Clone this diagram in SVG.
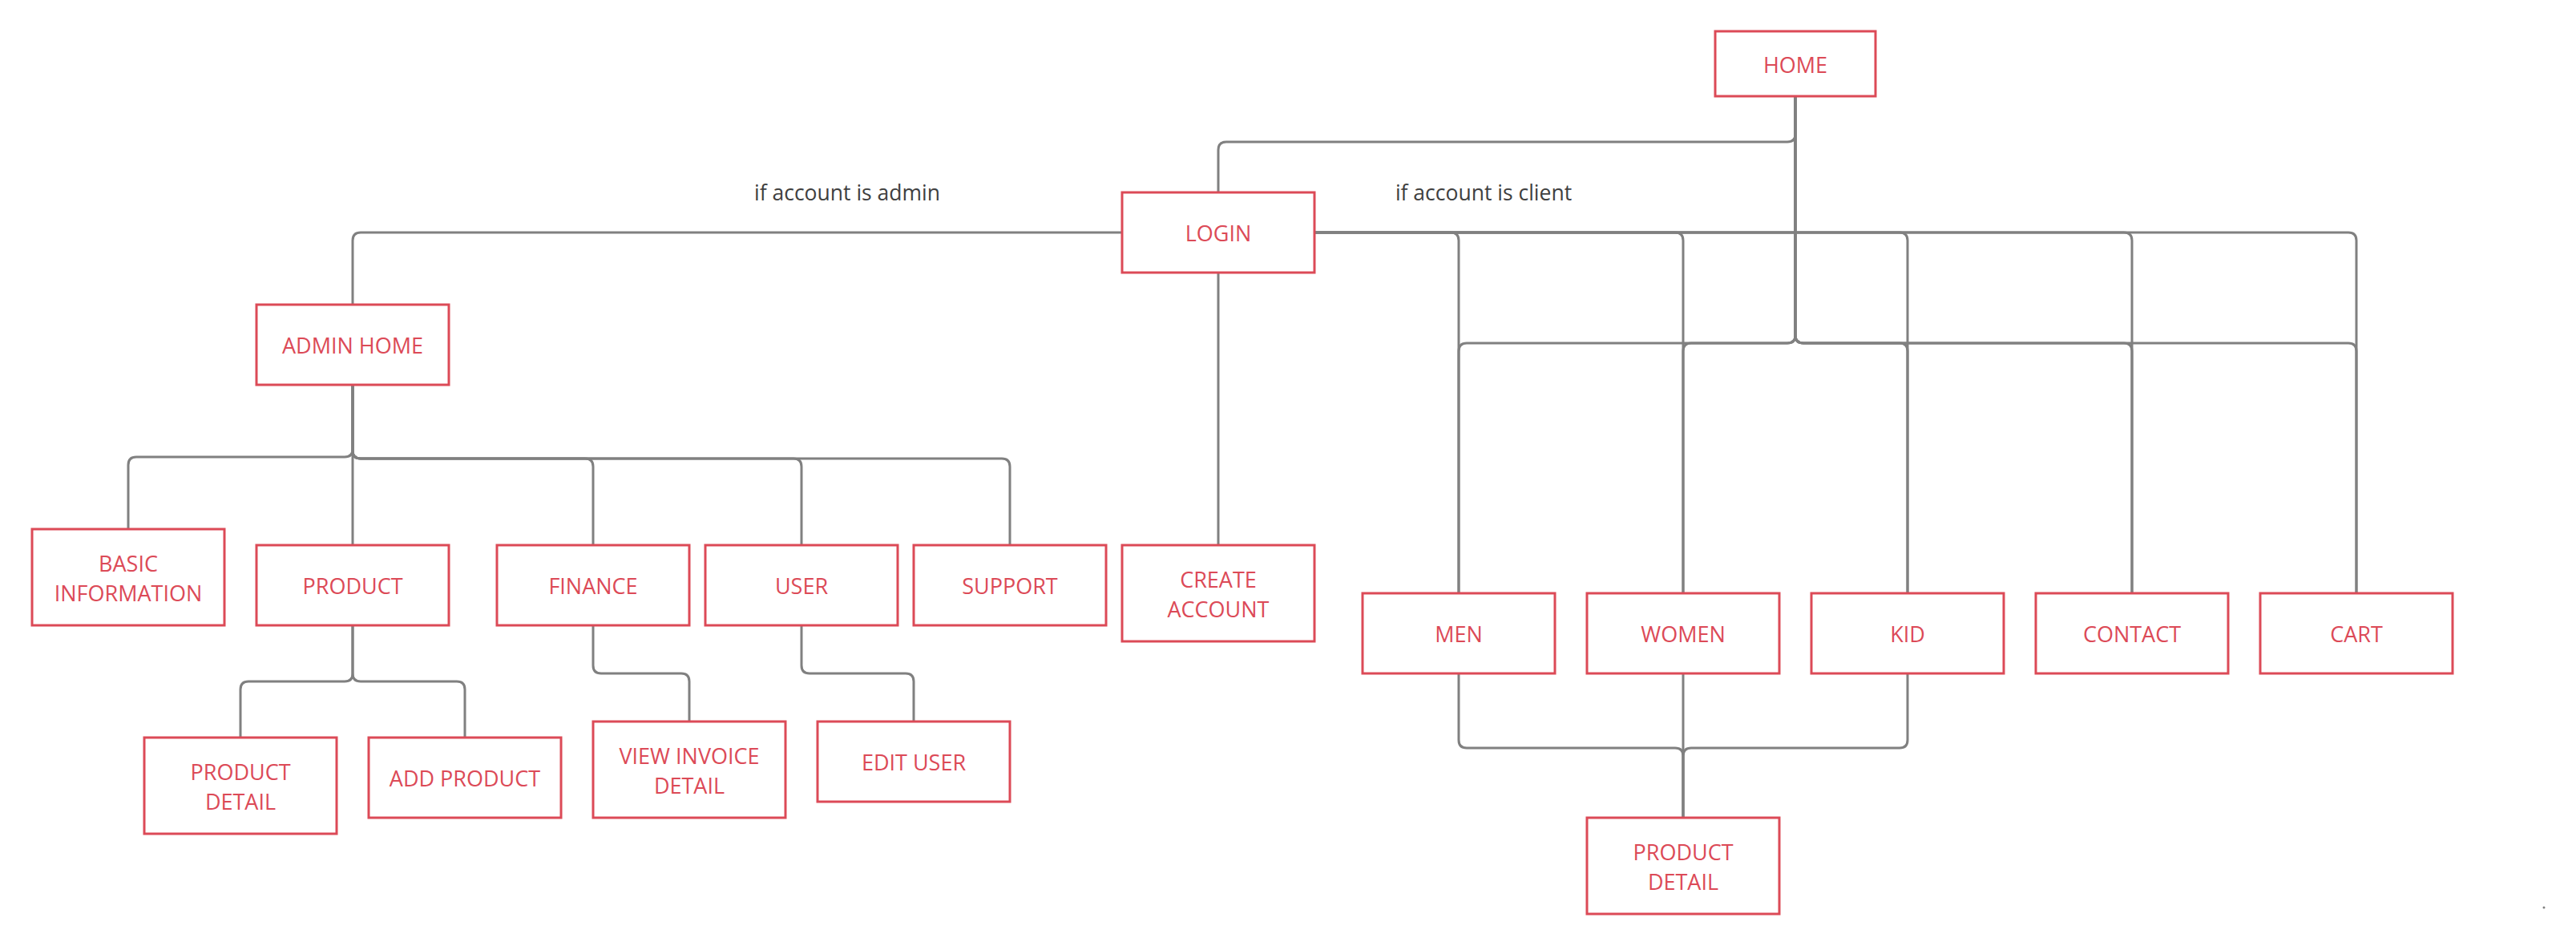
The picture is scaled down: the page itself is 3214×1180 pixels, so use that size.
<svg xmlns="http://www.w3.org/2000/svg" width="3214" height="1180" viewBox="0 0 3214 1180">
<style>
.bg{fill:#ffffff}
.c{fill:none;stroke:#808080;stroke-width:3;stroke-linejoin:round}
.n{fill:#ffffff;stroke:#dc4a57;stroke-width:3}
.t{font-family:"Open Sans","Noto Sans","Liberation Sans",sans-serif;font-size:27px;fill:#dc4a57;text-anchor:middle;dominant-baseline:central}
.l{font-family:"Open Sans","Noto Sans","Liberation Sans",sans-serif;font-size:26.5px;fill:#404040;text-anchor:middle;dominant-baseline:central}
</style>
<rect class="bg" x="0" y="0" width="3214" height="1180"/>
<g id="connectors">
<path class="c" d="M2240,120 V167 Q2240,177 2230,177 H1530 Q1520,177 1520,187 V240"/>
<path class="c" d="M2240,120 V418 Q2240,428 2230,428 H1830 Q1820,428 1820,438 V740"/>
<path class="c" d="M2240,120 V418 Q2240,428 2230,428 H2110 Q2100,428 2100,438 V740"/>
<path class="c" d="M2240,120 V418 Q2240,428 2250,428 H2370 Q2380,428 2380,438 V740"/>
<path class="c" d="M2240,120 V418 Q2240,428 2250,428 H2650 Q2660,428 2660,438 V740"/>
<path class="c" d="M2240,120 V418 Q2240,428 2250,428 H2930 Q2940,428 2940,438 V740"/>
<path class="c" d="M1400,290 H450 Q440,290 440,300 V380"/>
<path class="c" d="M1520,340 V680"/>
<path class="c" d="M1640,290 H1810 Q1820,290 1820,300 V740"/>
<path class="c" d="M1640,290 H2090 Q2100,290 2100,300 V740"/>
<path class="c" d="M1640,290 H2370 Q2380,290 2380,300 V740"/>
<path class="c" d="M1640,290 H2650 Q2660,290 2660,300 V740"/>
<path class="c" d="M1640,290 H2930 Q2940,290 2940,300 V740"/>
<path class="c" d="M440,480 V560 Q440,570 430,570 H170 Q160,570 160,580 V660"/>
<path class="c" d="M440,480 V680"/>
<path class="c" d="M440,480 V562 Q440,572 450,572 H730 Q740,572 740,582 V680"/>
<path class="c" d="M440,480 V562 Q440,572 450,572 H990 Q1000,572 1000,582 V680"/>
<path class="c" d="M440,480 V562 Q440,572 450,572 H1250 Q1260,572 1260,582 V680"/>
<path class="c" d="M440,780 V840 Q440,850 430,850 H310 Q300,850 300,860 V920"/>
<path class="c" d="M440,780 V840 Q440,850 450,850 H570 Q580,850 580,860 V920"/>
<path class="c" d="M740,780 V830 Q740,840 750,840 H850 Q860,840 860,850 V900"/>
<path class="c" d="M1000,780 V830 Q1000,840 1010,840 H1130 Q1140,840 1140,850 V900"/>
<path class="c" d="M1820,840 V923 Q1820,933 1830,933 H2090 Q2100,933 2100,943 V1020"/>
<path class="c" d="M2100,840 V1020"/>
<path class="c" d="M2380,840 V923 Q2380,933 2370,933 H2110 Q2100,933 2100,943 V1020"/>
</g>
<text class="l" x="1057" y="240">if account is admin</text>
<text class="l" x="1851" y="240">if account is client</text>
<g id="home"><rect class="n" x="2140" y="39" width="200" height="81"/><text class="t" x="2240" y="80">HOME</text></g>
<g id="login"><rect class="n" x="1400" y="240" width="240" height="100"/><text class="t" x="1520" y="290">LOGIN</text></g>
<g id="admin-home"><rect class="n" x="320" y="380" width="240" height="100"/><text class="t" x="440" y="430">ADMIN HOME</text></g>
<g id="basic-information"><rect class="n" x="40" y="660" width="240" height="120"/><text class="t" x="160" y="702">BASIC</text><text class="t" x="160" y="739">INFORMATION</text></g>
<g id="product"><rect class="n" x="320" y="680" width="240" height="100"/><text class="t" x="440" y="730">PRODUCT</text></g>
<g id="finance"><rect class="n" x="620" y="680" width="240" height="100"/><text class="t" x="740" y="730">FINANCE</text></g>
<g id="user"><rect class="n" x="880" y="680" width="240" height="100"/><text class="t" x="1000" y="730">USER</text></g>
<g id="support"><rect class="n" x="1140" y="680" width="240" height="100"/><text class="t" x="1260" y="730">SUPPORT</text></g>
<g id="create-account"><rect class="n" x="1400" y="680" width="240" height="120"/><text class="t" x="1520" y="722">CREATE</text><text class="t" x="1520" y="759">ACCOUNT</text></g>
<g id="admin-product-detail"><rect class="n" x="180" y="920" width="240" height="120"/><text class="t" x="300" y="962">PRODUCT</text><text class="t" x="300" y="999">DETAIL</text></g>
<g id="add-product"><rect class="n" x="460" y="920" width="240" height="100"/><text class="t" x="580" y="970">ADD PRODUCT</text></g>
<g id="view-invoice-detail"><rect class="n" x="740" y="900" width="240" height="120"/><text class="t" x="860" y="942">VIEW INVOICE</text><text class="t" x="860" y="979">DETAIL</text></g>
<g id="edit-user"><rect class="n" x="1020" y="900" width="240" height="100"/><text class="t" x="1140" y="950">EDIT USER</text></g>
<g id="men"><rect class="n" x="1700" y="740" width="240" height="100"/><text class="t" x="1820" y="790">MEN</text></g>
<g id="women"><rect class="n" x="1980" y="740" width="240" height="100"/><text class="t" x="2100" y="790">WOMEN</text></g>
<g id="kid"><rect class="n" x="2260" y="740" width="240" height="100"/><text class="t" x="2380" y="790">KID</text></g>
<g id="contact"><rect class="n" x="2540" y="740" width="240" height="100"/><text class="t" x="2660" y="790">CONTACT</text></g>
<g id="cart"><rect class="n" x="2820" y="740" width="240" height="100"/><text class="t" x="2940" y="790">CART</text></g>
<g id="client-product-detail"><rect class="n" x="1980" y="1020" width="240" height="120"/><text class="t" x="2100" y="1062">PRODUCT</text><text class="t" x="2100" y="1099">DETAIL</text></g>
<circle cx="3174" cy="1132" r="1.5" fill="#808080"/>
</svg>
